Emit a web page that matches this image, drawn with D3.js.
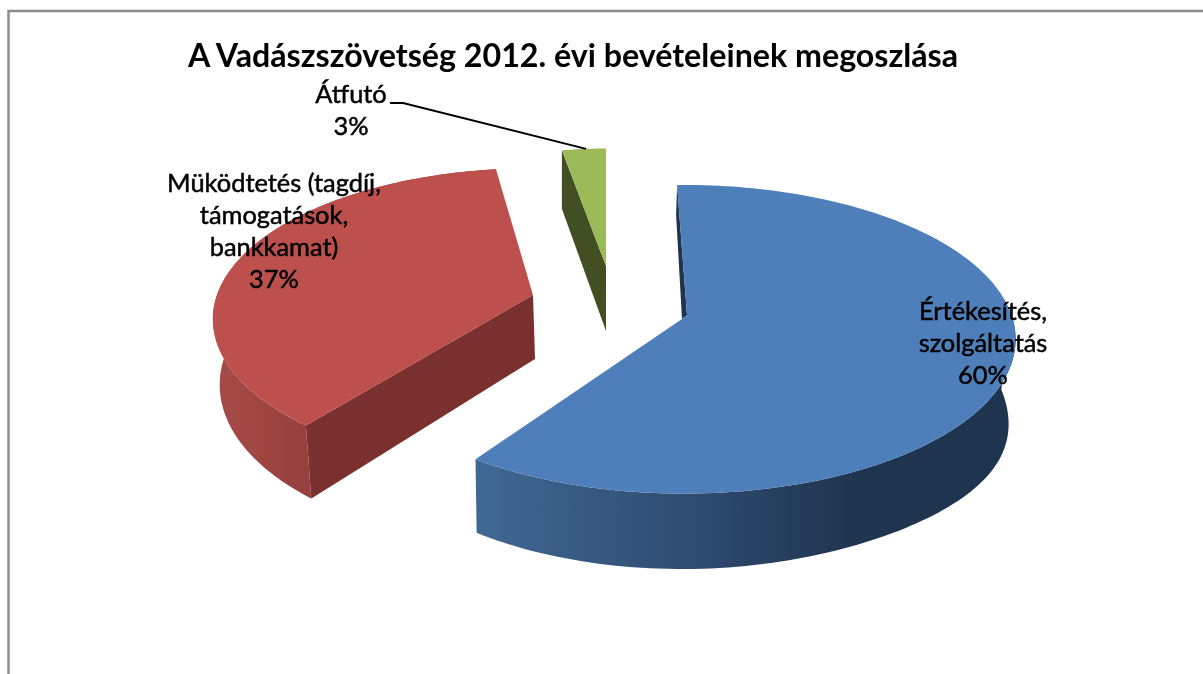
<!DOCTYPE html>
<html><head><meta charset="utf-8">
<script src="https://cdn.jsdelivr.net/npm/d3@7"></script>
<style>html,body{margin:0;padding:0;background:#fff}svg{display:block}</style>
</head><body><svg id="c" width="1203" height="674"></svg>
<script>
const titleText = "A Vadászszövetség 2012. évi bevételeinek megoszlása";
const categories = ["Értékesítés, szolgáltatás", "Müködtetés (tagdíj, támogatások, bankkamat)", "Átfutó"];
const values = [60, 37, 3];
const percentLabels = ["60%", "37%", "3%"];
const labelLines = [["Értékesítés,", "szolgáltatás", "60%"], ["Müködtetés (tagdíj,", "támogatások,", "bankkamat)", "37%"], ["Átfutó", "3%"]];

// Projection of each exploded 3-D slice
const geom = [
  {ax:684, ay:320, R:329, A:151.9, p:.125, rot:-1.35, D:66, bulge:18, xs:.985, dx:-2, top:"#4e7fba", cut:"#1f344f", wall:"gradBlue", notch:[3,-5,-2,-1]},
  {ax:533, ay:295, R:316, A:147,   p:.16,  rot:3,     D:64, bulge:0,  xs:.985, dx:2,  top:"#bd4f4c", cut:"#7b3030", wall:"gradRed"},
  {ax:606, ay:266, R:262, A:131,   p:.1148,rot:0,     D:65, bulge:0,  xs:1,    dx:0,  top:"#9bbb59", cut:"#414f22", wall:"#414f22"}
];
const labelPos = [{x:983,y:320},{x:274,y:192},{x:351,y:103}];
const W = 1203, H = 674;

const svg = d3.select("#c");
const defs = svg.append("defs");
function grad(id, x1, x2, stops){
  const g = defs.append("linearGradient").attr("id",id).attr("gradientUnits","userSpaceOnUse")
    .attr("x1",x1).attr("x2",x2).attr("y1",0).attr("y2",0);
  stops.forEach(s=>g.append("stop").attr("offset",s[0]).attr("stop-color",s[1]));
}
grad("gradBlue",476,1017,[[0,"#416893"],[.4,"#2e4b70"],[.7,"#1f344f"],[1,"#1f344f"]]);
grad("gradRed",213,320,[[0,"#a84b48"],[1,"#933f3c"]]);
defs.append("filter").attr("id","soft").append("feGaussianBlur").attr("stdDeviation",.45);

// frame
svg.append("path").attr("d",d3.line()([[8.5,H+2],[8.5,11],[W+2,11]]))
  .attr("fill","none").attr("stroke","#8c8c8c").attr("stroke-width",2.5);

const arcs = d3.pie().sort(null).startAngle(0).endAngle(2*Math.PI)(values);

function project(g, t, r){ // t in radians clockwise from top, r=0..1
  const X = r*Math.sin(t), Y = -r*Math.cos(t), s = 1/(1-g.p*Y);
  return {x:g.ax+g.R*X*s, y:g.ay+g.A*Y*s, s, X, Y};
}
function lower(g,p){
  const bump = g.bulge*Math.pow(Math.max(p.X,0),4);
  return {x:g.ax+g.dx+(p.x-g.ax)*g.xs, y:p.y+(g.D+bump)*p.s};
}
const line = d3.line().x(d=>d.x).y(d=>d.y);

[0,1,2].forEach(i=>{
  const a = arcs[i], g = geom[i];
  const off = g.rot*Math.PI/180, t0=a.startAngle+off, t1=a.endAngle+off;
  const ts = d3.range(0,161).map(k=>t0+(t1-t0)*k/160);
  const rim = ts.map(t=>project(g,t,1));
  const apex = project(g,0,0);
  const layer = svg.append("g");
  if(g.notch){
    const front = rim.filter(p=>p.Y>-0.1);
    const lowRim = front.map(p=>lower(g,p)).reverse();
    layer.append("path").attr("d",line(front.concat(lowRim))+"Z").attr("fill","url(#"+g.wall+")");
    // thin inner wall showing along the opening of the large slice
    const inner = {x:apex.x+g.notch[0], y:apex.y+g.notch[1]};
    const outer = {x:apex.x+g.notch[2], y:apex.y+g.notch[3]};
    const low = {x:rim[0].x-1, y:rim[0].y+30};
    layer.append("path").attr("d",line([rim[0],inner,outer,low])+"Z").attr("fill",g.cut);
    layer.append("path").attr("d",line([outer,inner].concat(rim))+"Z").attr("fill",g.top);
    return;
  }
  layer.append("path").attr("d",line([rim[0],apex,lower(g,apex),lower(g,rim[0])])+"Z").attr("fill",g.cut);
  if(i===1){
    const lowRim = rim.map(p=>lower(g,p)).reverse();
    layer.append("path").attr("d",line(rim.concat(lowRim))+"Z").attr("fill","url(#"+g.wall+")");
  }
  layer.append("path").attr("d",line([apex].concat(rim))+"Z").attr("fill",g.top);
});

// leader line for the small slice
const gG = geom[2];
const leaderEnd = project(gG, arcs[2].startAngle+(arcs[2].endAngle-arcs[2].startAngle)*.55, 1);
svg.append("path").attr("d",d3.line()([[390,103],[403,103],[leaderEnd.x,leaderEnd.y]]))
  .attr("fill","none").attr("stroke","#000").attr("stroke-width",2);

// labels
const FONT = "Lato, 'Open Sans', sans-serif";
const textLayer = svg.append("g").attr("filter","url(#soft)");
textLayer.append("text").attr("x",573).attr("y",67).attr("text-anchor","middle")
  .attr("font-family",FONT).attr("font-weight",700).attr("font-size",32.2).attr("fill","#000").text(titleText);
labelLines.forEach((lines,i)=>{
  const t = textLayer.append("text").attr("text-anchor","middle").attr("font-family",FONT)
    .attr("font-weight",400).attr("font-size",25.4).attr("fill","#000")
    .attr("stroke","#000").attr("stroke-width",.5);
  lines.forEach((l,k)=>t.append("tspan").attr("x",labelPos[i].x).attr("y",labelPos[i].y+k*32).text(l));
});
</script></body></html>
